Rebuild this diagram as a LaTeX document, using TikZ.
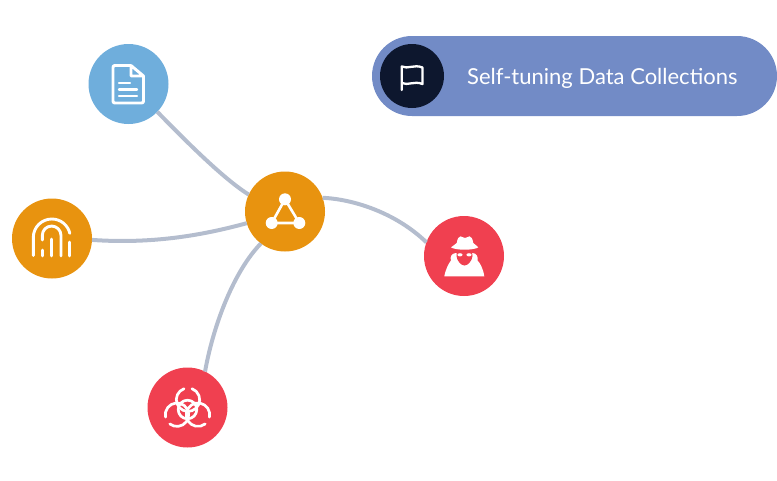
\documentclass[tikz,border=0pt]{standalone}
\usepackage{fontspec}
\setmainfont{Lato}
\usetikzlibrary{shapes.misc}
\definecolor{cblue}{HTML}{6FAEDC}
\definecolor{corange}{HTML}{E8930F}
\definecolor{cred}{HTML}{F04050}
\definecolor{cpill}{HTML}{728BC6}
\definecolor{cdark}{HTML}{0D172E}
\definecolor{cline}{HTML}{B4BDCE}
\tikzset{
  disc/.style={circle,minimum size=80pt,inner sep=0pt,outer sep=0pt,fill=#1},
  link/.style={draw=cline,line width=4pt},
  ico/.style={draw=white,line width=2.9pt,line cap=round,line join=round},
}
\begin{document}
\begin{tikzpicture}[x=1pt,y=-1pt]
\useasboundingbox (0,0) rectangle (777,480);
\node[disc=cblue] (doc) at (128.5,84) {};
\node[disc=corange] (finger) at (52,238.5) {};
\node[disc=corange] (hub) at (285,211.5) {};
\node[disc=cred] (spy) at (464,256) {};
\node[disc=cred] (bio) at (187.5,407.5) {};
\draw[link] (hub.155) .. controls (222,178) and (180,135) .. (doc.-44.5);
\draw[link] (hub.197) .. controls (200,236) and (150,244) .. (finger.-2);
\draw[link] (hub.20) .. controls (352,199) and (395,212) .. (spy.160);
\draw[link] (hub.233) .. controls (235,270) and (214,322) .. (bio.64);
\node[rounded rectangle,fill=cpill,minimum width=405pt,minimum height=80pt,inner sep=0pt,outer sep=0pt] (pill) at (574.5,76) {};
\node[circle,fill=cdark,minimum size=64pt,inner sep=0pt] (flagdisc) at (412,76) {};
\node[anchor=base west,text=white,font=\fontsize{22pt}{24pt}\selectfont,inner sep=0pt] (title) at (467,84) {Self-tuning Data Collections};
% flag
\draw[ico,line width=2.3pt] (401.7,90) -- (401.7,66.5)
  .. controls (408,69.5) and (414,64) .. (422.5,67.5) -- (422.5,84)
  .. controls (414,80.5) and (408,86) .. (401.7,83);
% document
\draw[ico,line width=2.9pt] (131,65.5) -- (115,65.5) .. controls (113.5,65.5) and (113,66) .. (113,67.5) -- (113,101) .. controls (113,102.5) and (113.5,103) .. (115,103) -- (141.5,103) .. controls (143,103) and (143.5,102.5) .. (143.5,101) -- (143.5,76) -- (131,65.5) -- (131,76) -- (143.5,76);
\draw[ico,line width=2.4pt] (119,82.7) -- (130,82.7) (119,89.3) -- (137,89.3) (119,96) -- (137,96);
% fingerprint
\begin{scope}[ico]
\draw (33.3,255.5) -- (33.3,237.5) arc[start angle=180,end angle=347,radius=18.5];
\draw (69.3,242) -- (69.3,256);
\draw (42.3,250) -- (42.3,256);
\draw (42.3,240) -- (42.3,235.4) arc[start angle=180,end angle=360,radius=9.35] -- (61,256);
\draw (51.7,239) -- (51.7,256);
\end{scope}
% hub icon
\fill[white] (285,199.3) circle (6pt) (271.7,223) circle (6pt) (299.3,223) circle (6pt);
\draw[white,line width=2.6pt,line join=round] (285,199.3) -- (271.7,223) -- (299.3,223) -- cycle;
% spy
\fill[white] (444.3,276.3) .. controls (446,268) and (449,263) .. (451,260.5) .. controls (449.5,257) and (452,253) .. (456,253) -- (472.5,253) .. controls (476.5,253) and (478.5,257) .. (477.5,260.5) .. controls (480,263) and (483,268) .. (484.3,276.3) -- cycle;
\fill[cred] (456.5,252) -- (472,252) -- (472.5,256) .. controls (472,261) and (468,265.5) .. (464.5,265.5) .. controls (461,265.5) and (457,261) .. (456.5,256) -- cycle;
\fill[white] (460,254.8) ellipse (2.6pt and 1.6pt) (469,254.8) ellipse (2.6pt and 1.6pt);
\fill[white] (451,247.3) .. controls (453,245.5) and (455,245) .. (456.7,243) .. controls (457.5,239) and (458.5,236.3) .. (460.5,236.3) .. controls (462,236.3) and (463,238) .. (465,238) .. controls (467,238) and (468,236.3) .. (469.5,236.3) .. controls (471.5,236.3) and (472.5,239) .. (473.3,243) .. controls (475,245) and (477,245.5) .. (478.3,247.3) .. controls (474,250.5) and (455,250.5) .. (451,247.3) -- cycle;
% biohazard
\begin{scope}[ico,line width=2.7pt]
\draw (187.5,409.5) circle (9.3pt);
\draw ([shift={(-110:11.7)}]188,399.7) arc[start angle=-110,end angle=-430,radius=11.7];
\draw ([shift={(-232:11.7)}]177,414.7) arc[start angle=-232,end angle=-552,radius=11.7];
\draw ([shift={(12:11.7)}]198,414.7) arc[start angle=12,end angle=-308,radius=11.7];
\end{scope}
\end{tikzpicture}
\end{document}
